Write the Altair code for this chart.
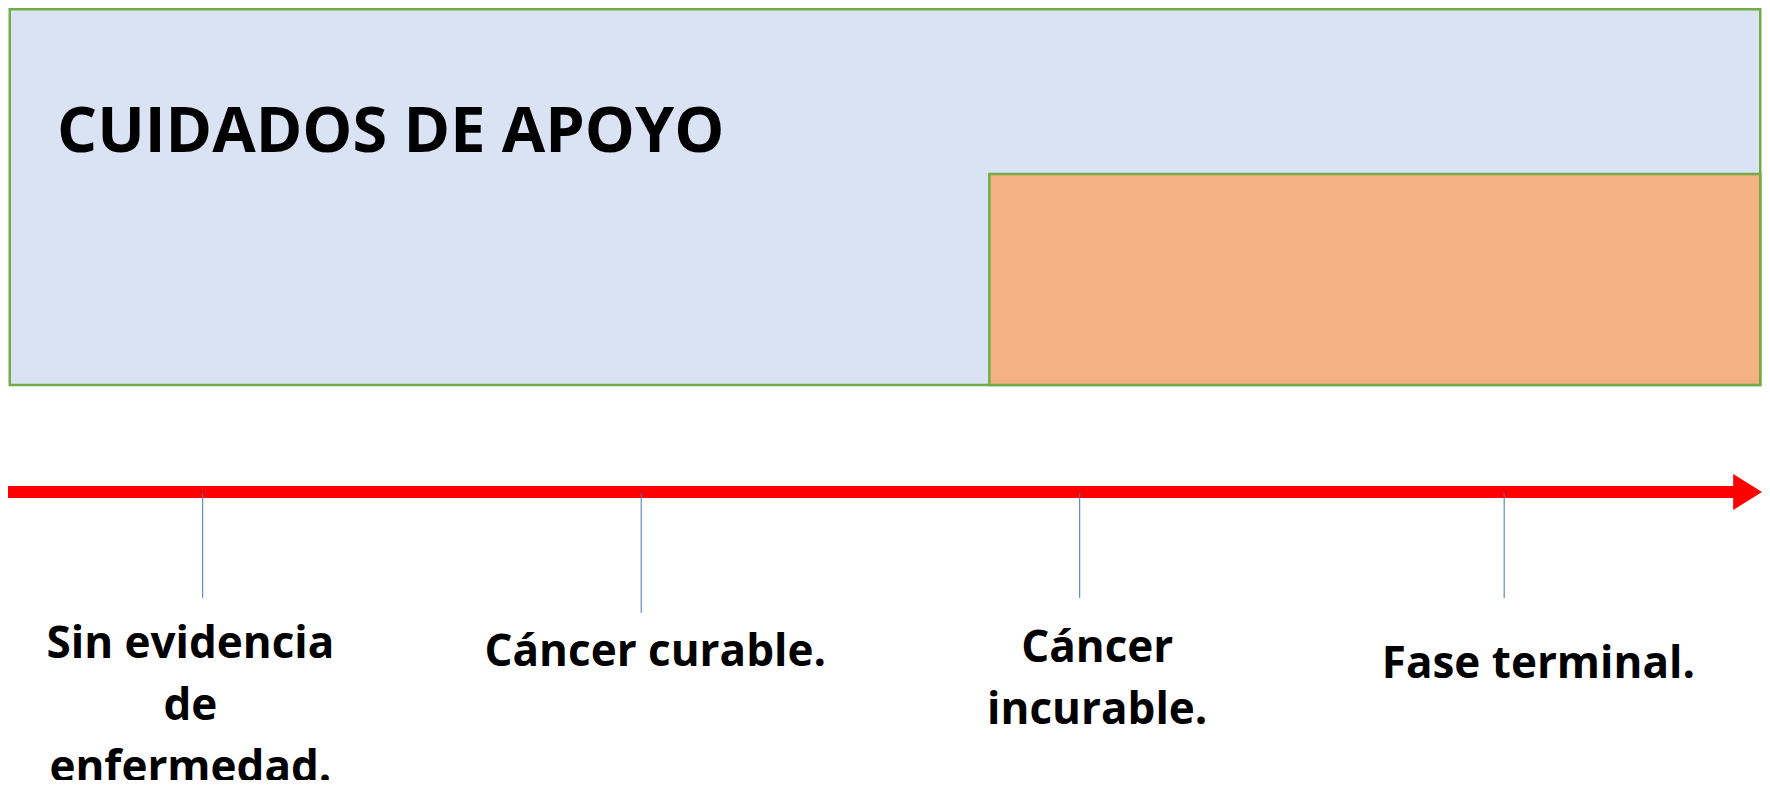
import altair as alt
import pandas as pd

# ---- data (timeline runs from 0 = start to 100 = arrow tip) ----
stages = ["Sin evidencia\nde\nenfermedad.", "Cáncer curable.", "Cáncer\nincurable.", "Fase terminal."]
stage_points = [11.1, 36.1, 61.1, 85.3]
label_centers = [10.4, 36.9, 62.1, 87.25]
support_title = "CUIDADOS DE APOYO"
support_span = [0.1, 99.9]
palliative_span = [55.95, 99.9]
timeline_span = [0, 100]

# ---- layout (pixels inside the plot area) ----
W, H = 1754, 772
label_baseline = [650, 658, 654, 670]
tick_bottom = [590, 605, 590, 590]

FONT = "Open Sans"
GREEN = "#70AD47"

x = alt.Scale(domain=[0, 100], range=[0, W], nice=False, zero=False)

boxes = pd.DataFrame({
    "name": ["support", "palliative"],
    "start": [support_span[0], palliative_span[0]],
    "end": [support_span[1], palliative_span[1]],
})

support = alt.Chart(boxes[boxes.name == "support"]).mark_rect(
    fill="#DAE3F3", stroke=GREEN, strokeWidth=2.5
).encode(
    x=alt.X("start:Q", scale=x, axis=None),
    x2="end:Q",
    y=alt.value(1.2),
    y2=alt.value(377),
)

palliative = alt.Chart(boxes[boxes.name == "palliative"]).mark_rect(
    fill="#F4B183", stroke=GREEN, strokeWidth=2.5
).encode(
    x=alt.X("start:Q", scale=x, axis=None),
    x2="end:Q",
    y=alt.value(166),
    y2=alt.value(377),
)

title = alt.Chart(pd.DataFrame({"t": [support_title]})).mark_text(
    font=FONT, fontWeight="bold", fontSize=63, align="left", baseline="alphabetic", color="black"
).encode(
    text="t:N",
    x=alt.value(49),
    y=alt.value(144),
)

tl = pd.DataFrame({"start": [timeline_span[0]], "end": [timeline_span[1]]})

shaft = alt.Chart(tl).mark_rule(color="#FF0000", strokeWidth=12, strokeCap="butt").encode(
    x=alt.X("start:Q", scale=x, axis=None),
    x2=alt.value(W - 22),
    y=alt.value(484),
)

head = alt.Chart(tl).mark_point(
    shape="M -1.6 -1 L 0 0 L -1.6 1 Z", size=1296, filled=True, color="#FF0000", opacity=1, strokeWidth=0
).encode(
    x=alt.X("end:Q", scale=x, axis=None),
    y=alt.value(484),
)

st = pd.DataFrame({
    "stage": stages,
    "pos": stage_points,
    "center": label_centers,
    "base": label_baseline,
    "tick_end": tick_bottom,
})

ticks = alt.Chart(st).mark_rule(color="#4472C4", strokeWidth=1).encode(
    x=alt.X("pos:Q", scale=x, axis=None),
    y=alt.Y("tick_end:Q", scale=None, axis=None),
    y2=alt.value(485),
)

labels = alt.Chart(st).mark_text(
    font=FONT, fontWeight="bold", fontSize=44, lineHeight=62, lineBreak="\n",
    align="center", baseline="alphabetic", color="black"
).encode(
    x=alt.X("center:Q", scale=x, axis=None),
    y=alt.Y("base:Q", scale=None, axis=None),
    text="stage:N",
)

chart = alt.layer(support, palliative, title, shaft, head, ticks, labels).properties(
    width=W, height=H, padding=0, autosize=alt.AutoSizeParams(type="none"),
    background="white",
).configure_view(stroke=None)

chart.save("out.html", embed_options={"renderer": "svg", "actions": False})
